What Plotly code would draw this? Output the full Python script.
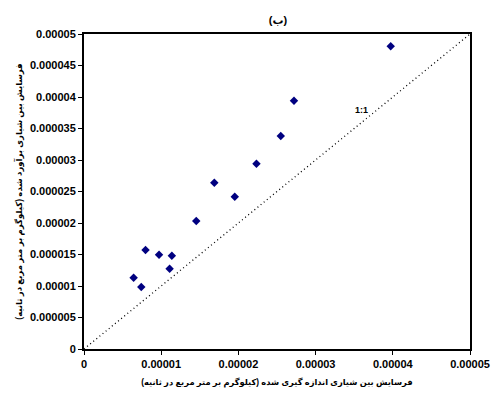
import plotly.graph_objects as go

measured = [0.643e-5, 0.742e-5, 0.797e-5, 0.972e-5, 1.109e-5, 1.138e-5, 1.454e-5,
            1.688e-5, 1.953e-5, 2.234e-5, 2.549e-5, 2.720e-5, 3.973e-5]
estimated = [1.132e-5, 0.984e-5, 1.571e-5, 1.497e-5, 1.275e-5, 1.481e-5, 2.032e-5,
             2.640e-5, 2.417e-5, 2.941e-5, 3.381e-5, 3.941e-5, 4.805e-5]
x_ticks = [0, 1e-5, 2e-5, 3e-5, 4e-5, 5e-5]
x_labels = ["0", "0.00001", "0.00002", "0.00003", "0.00004", "0.00005"]
y_ticks = [0, 0.5e-5, 1e-5, 1.5e-5, 2e-5, 2.5e-5, 3e-5, 3.5e-5, 4e-5, 4.5e-5, 5e-5]
y_labels = ["0", "0.000005", "0.00001", "0.000015", "0.00002", "0.000025",
            "0.00003", "0.000035", "0.00004", "0.000045", "0.00005"]
line_xy = [0, 5e-5]

title_text = "(ب)"
x_title = "فرسایش بین شیاری اندازه گیری شده (کیلوگرم بر متر مربع در ثانیه)"
y_title = "فرسایش بین شیاری برآورد شده (کیلوگرم بر متر مربع در ثانیه)"

font_fam = "Liberation Sans, Arial, DejaVu Sans, sans-serif"

fig = go.Figure()
fig.add_trace(go.Scatter(x=line_xy, y=line_xy, mode="lines",
                         line=dict(color="#000000", width=1.3, dash="1px,3px"),
                         hoverinfo="skip", showlegend=False))
fig.add_trace(go.Scatter(x=measured, y=estimated, mode="markers",
                         marker=dict(symbol="diamond", color="#000080", size=6.5),
                         showlegend=False))

fig.add_annotation(x=3.6e-5, y=3.8e-5, text="<b>1:1</b>", showarrow=False,
                   font=dict(family=font_fam, size=9, color="#000000"))

fig.update_layout(
    width=502, height=404,
    margin=dict(l=84, r=27, t=34, b=55),
    paper_bgcolor="white", plot_bgcolor="white",
    font=dict(family=font_fam, color="black"),
    title=dict(text="<b>" + title_text + "</b>", x=(278) / 502, xanchor="center",
               y=1 - 20 / 404, yanchor="middle",
               font=dict(family=font_fam, size=11, color="black")),
)
fig.update_xaxes(range=[0, 5e-5], tickvals=x_ticks, ticktext=["<b>%s</b>" % t for t in x_labels],
                 showgrid=False, zeroline=False, showline=True, linecolor="black", linewidth=2,
                 mirror=True, ticks="outside", ticklen=4, tickcolor="black",
                 tickfont=dict(family=font_fam, size=11, color="black"),
                 title=dict(text="<b>" + x_title + "</b>", standoff=10,
                            font=dict(family=font_fam, size=8.3, color="black")))
fig.update_yaxes(range=[0, 5e-5], tickvals=y_ticks, ticktext=["<b>%s</b>" % t for t in y_labels],
                 showgrid=False, zeroline=False, showline=True, linecolor="black", linewidth=2,
                 mirror=True, ticks="outside", ticklen=4, tickcolor="black",
                 tickfont=dict(family=font_fam, size=11, color="black"),
                 title=dict(text="<b>" + y_title + "</b>", standoff=6,
                            font=dict(family=font_fam, size=8.5, color="black")))

fig.write_html("out.html")
